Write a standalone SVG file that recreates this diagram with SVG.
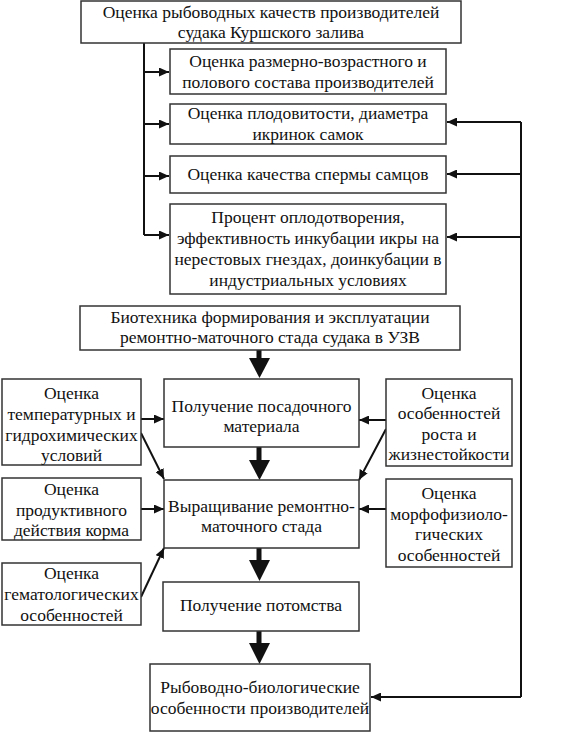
<svg xmlns="http://www.w3.org/2000/svg" width="566" height="733" viewBox="0 0 566 733">
<style>
.box{fill:#fff;stroke:#333;stroke-width:1.5}
text{fill:#111;text-anchor:middle}
.ln{fill:none;stroke:#111;stroke-width:2}
.thick{fill:none;stroke:#111;stroke-width:5}
</style>
<defs>
<marker id="ah" markerWidth="10" markerHeight="9" refX="10" refY="4.5" orient="auto" markerUnits="userSpaceOnUse">
<path d="M0,0 L10,4.5 L0,9 z" fill="#111"/>
</marker>
</defs>
<rect width="566" height="733" fill="#fff"/>
<g id="connectors">
<path class="ln" d="M144,43 V235"/>
<path class="ln" d="M144,72 H169" marker-end="url(#ah)"/>
<path class="ln" d="M144,124 H169" marker-end="url(#ah)"/>
<path class="ln" d="M144,176 H169" marker-end="url(#ah)"/>
<path class="ln" d="M144,235 H169" marker-end="url(#ah)"/>
<path class="ln" d="M521,122 V697"/>
<path class="ln" d="M521,122 H447" marker-end="url(#ah)"/>
<path class="ln" d="M521,174 H447" marker-end="url(#ah)"/>
<path class="ln" d="M521,237 H447" marker-end="url(#ah)"/>
<path class="ln" d="M521,697 H371" marker-end="url(#ah)"/>
<path class="thick" d="M259,350 V359"/>
<path d="M249,358 L270,358 L259.5,378 z" fill="#111"/>
<path class="thick" d="M259,447 V461"/>
<path d="M249,460 L270,460 L259.5,480 z" fill="#111"/>
<path class="thick" d="M259,548 V561"/>
<path d="M249,560 L270,560 L259.5,581 z" fill="#111"/>
<path class="thick" d="M259,631 V644"/>
<path d="M249,643 L270,643 L259.5,664 z" fill="#111"/>
<path class="ln" d="M141,419 H164" marker-end="url(#ah)"/>
<path class="ln" d="M141,433 L164,479" marker-end="url(#ah)"/>
<path class="ln" d="M141,509 H164" marker-end="url(#ah)"/>
<path class="ln" d="M141,597 L164,548" marker-end="url(#ah)"/>
<path class="ln" d="M386,420 H359" marker-end="url(#ah)"/>
<path class="ln" d="M386,429 L359,480" marker-end="url(#ah)"/>
<path class="ln" d="M386,509 H359" marker-end="url(#ah)"/>
</g>
<g font-family="Liberation Serif, Times New Roman, serif" font-size="17.5">
<g id="n-top"><rect class="box" x="81" y="1" width="380" height="42"/>
<text x="271" y="18">Оценка рыбоводных качеств производителей</text>
<text x="271" y="38">судака Куршского залива</text></g>
<g id="n-a"><rect class="box" x="170" y="49" width="276" height="45"/>
<text x="308" y="67">Оценка размерно-возрастного и</text>
<text x="308" y="88">полового состава производителей</text></g>
<g id="n-b"><rect class="box" x="170" y="104" width="276" height="40"/>
<text x="308" y="119">Оценка плодовитости, диаметра</text>
<text x="308" y="140">икринок самок</text></g>
<g id="n-c"><rect class="box" x="170" y="156" width="276" height="37"/>
<text x="308" y="180">Оценка качества спермы самцов</text></g>
<g id="n-d"><rect class="box" x="170" y="204" width="276" height="90"/>
<text x="308" y="223">Процент оплодотворения,</text>
<text x="308" y="244">эффективность инкубации икры на</text>
<text x="308" y="265">нерестовых гнездах, доинкубации в</text>
<text x="308" y="286">индустриальных условиях</text></g>
<g id="n-bio"><rect class="box" x="80" y="306" width="380" height="44"/>
<text x="270" y="323">Биотехника формирования и эксплуатации</text>
<text x="270" y="343">ремонтно-маточного стада судака в УЗВ</text></g>
<g id="n-c1"><rect class="box" x="164" y="379" width="195" height="68"/>
<text x="261.5" y="412">Получение посадочного</text>
<text x="261.5" y="432">материала</text></g>
<g id="n-c2"><rect class="box" x="164" y="480" width="195" height="68"/>
<text x="261.5" y="512">Выращивание ремонтно-</text>
<text x="261.5" y="532">маточного стада</text></g>
<g id="n-c3"><rect class="box" x="163" y="582" width="196" height="49"/>
<text x="261" y="611">Получение потомства</text></g>
<g id="n-c4"><rect class="box" x="150" y="664" width="220" height="67"/>
<text x="260" y="693">Рыбоводно-биологические</text>
<text x="260" y="714">особенности производителей</text></g>
<g id="n-l1"><rect class="box" x="2" y="379" width="139" height="86"/>
<text x="71.5" y="399">Оценка</text>
<text x="71.5" y="420">температурных и</text>
<text x="71.5" y="441">гидрохимических</text>
<text x="71.5" y="461">условий</text></g>
<g id="n-l2"><rect class="box" x="2" y="478" width="139" height="62"/>
<text x="71.5" y="495">Оценка</text>
<text x="71.5" y="516">продуктивного</text>
<text x="71.5" y="536">действия корма</text></g>
<g id="n-l3"><rect class="box" x="2" y="563" width="139" height="62"/>
<text x="71.5" y="579">Оценка</text>
<text x="71.5" y="600">гематологических</text>
<text x="71.5" y="621">особенностей</text></g>
<g id="n-r1"><rect class="box" x="386" y="379" width="126" height="87"/>
<text x="449" y="399">Оценка</text>
<text x="449" y="419">особенностей</text>
<text x="449" y="440">роста и</text>
<text x="449" y="460">жизнестойкости</text></g>
<g id="n-r2"><rect class="box" x="386" y="479" width="126" height="88"/>
<text x="449" y="499">Оценка</text>
<text x="449" y="520">морфофизиоло-</text>
<text x="449" y="540">гических</text>
<text x="449" y="561">особенностей</text></g>
</g>
</svg>
